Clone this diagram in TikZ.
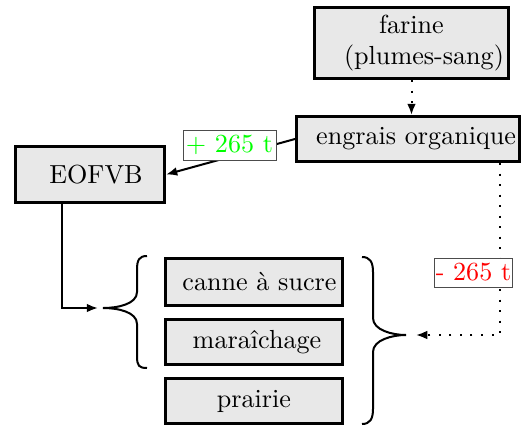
\documentclass[tikz,border=0pt]{standalone}
\usetikzlibrary{arrows.meta,calc}
\begin{document}
\begin{tikzpicture}[x=0.4pt,y=-0.4pt,
  every node/.append style={font=\fontsize{10.45}{12.4}\selectfont},
  box/.style={draw=black,line width=1.2pt,fill=gray!18,inner sep=0pt,align=center},
  flow/.style={line width=0.8pt,-{Latex[length=4.5pt,width=3.5pt]}},
  dflow/.style={line width=0.8pt,dash pattern=on 0.8pt off 3.4pt,-{Latex[length=4.5pt,width=3.5pt]}},
  qty/.style={draw=black!70,line width=0.4pt,fill=white,inner sep=0.5pt},
  brc/.style={line width=0.8pt}]
\useasboundingbox (0,0) rectangle (521,428);
\clip (0,0) rectangle (521,428);
% boxes
\node[box,minimum width=77.6pt,minimum height=28.4pt] (farine) at (411.5,43) {farine\\\hspace*{10pt}(plumes-sang)};
\node[box,minimum width=89.2pt,minimum height=18pt] (engrais) at (408,139) {\hspace*{6.5pt}engrais organique};
\node[box,minimum width=59.6pt,minimum height=22.4pt] (eofvb) at (90,174.5) {\hspace*{4.8pt}EOFVB};
\node[box,minimum width=70.8pt,minimum height=18.8pt] (canne) at (254,282) {\hspace*{4.4pt}canne à sucre};
\node[box,minimum width=70.8pt,minimum height=18pt] (mara) at (254,342) {\hspace*{2.4pt}maraîchage};
\node[box,minimum width=70.8pt,minimum height=18pt] (prairie) at (254,401) {prairie};
% brace tips and arrow ends
\coordinate (lbtip) at (103,308);
\coordinate (lbin) at (98,308);
\coordinate (rbtip) at (406,335);
\coordinate (rbin) at (416,335);
% braces
\draw[brc] (147,256) .. controls (139,256) and (137,260) .. (137,270) -- (137,292)
  .. controls (137,304) and (118,308) .. (lbtip)
  .. controls (118,308) and (137,312) .. (137,324) -- (137,356)
  .. controls (137,366) and (139,368) .. (147,368);
\draw[brc] (362,257) .. controls (370,257) and (373,262) .. (373,272) -- (373,318)
  .. controls (373,330) and (392,335) .. (rbtip)
  .. controls (392,335) and (373,340) .. (373,352) -- (373,409)
  .. controls (373,419) and (370,424) .. (362,424);
% connectors
\draw[dflow] (farine.south) -- (farine.south |- engrais.north);
\draw[flow] (engrais.west) -- (eofvb.east);
\draw[flow] ($(eofvb.south)+(-28,0)$) |- (lbin);
\draw[dflow] ($(engrais.south)+(92,0)$) |- (rbin);
% quantities
\node[qty,text=green,minimum width=37.2pt,minimum height=12pt] (plus) at (229.5,145) {+ 265 t};
\node[qty,text=red,minimum width=30.8pt,minimum height=11.6pt] (minus) at (473.5,272.5) {- 265 t};
\end{tikzpicture}
\end{document}
